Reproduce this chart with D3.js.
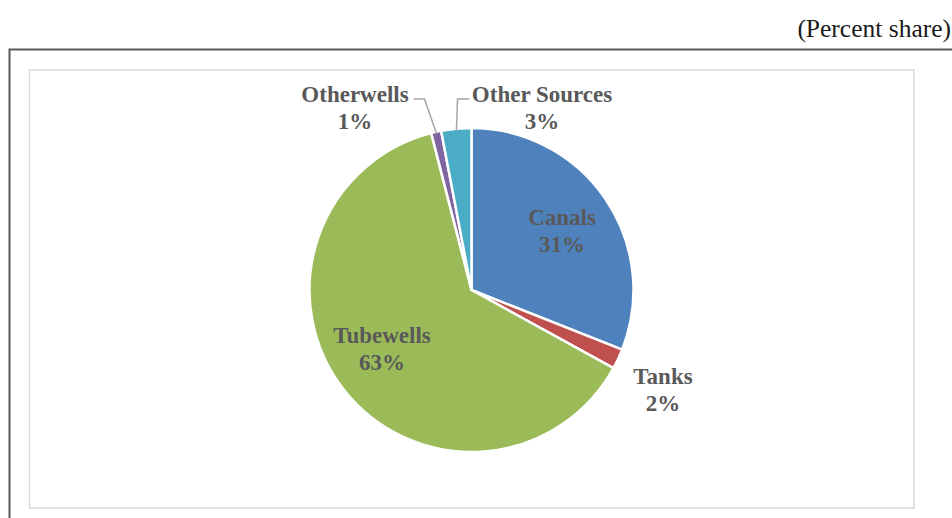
<!DOCTYPE html>
<html>
<head>
<meta charset="utf-8">
<script src="https://cdn.jsdelivr.net/npm/d3@7"></script>
<style>
  html, body { margin: 0; padding: 0; background: #fff; }
  svg { display: block; }
  text { font-family: "Liberation Serif", "Times New Roman", serif; }
</style>
</head>
<body>
<svg id="chart" width="952" height="518"></svg>
<script>
// Source of irrigation, percent share
const categories = ["Canals", "Tanks", "Tubewells", "Otherwells", "Other Sources"];
const shares = [31, 2, 63, 1, 3];
const colors = ["#4F81BD", "#C0504D", "#9BBB59", "#8064A2", "#4BACC6"];

const svg = d3.select("#chart");

// Outer frame (runs off the right and bottom edges)
svg.append("rect")
  .attr("x", 9.5).attr("y", 49.5)
  .attr("width", 960).attr("height", 500)
  .attr("fill", "none").attr("stroke", "#595959").attr("stroke-width", 2);

// Chart area border
svg.append("rect")
  .attr("x", 29.5).attr("y", 70)
  .attr("width", 884.5).attr("height", 438)
  .attr("fill", "#fff").attr("stroke", "#d9d9d9").attr("stroke-width", 1.5);

// Unit note
svg.append("text")
  .attr("x", 951).attr("y", 37)
  .attr("text-anchor", "end")
  .attr("font-size", 25.5)
  .attr("fill", "#1a1a1a")
  .text("(Percent share)");

const cx = 471.5, cy = 290, R = 162;

const data = categories.map((c, i) => ({ name: c, value: shares[i], color: colors[i] }));
const pie = d3.pie().value(d => d.value).sort(null);
const arcs = pie(data);
const arc = d3.arc().innerRadius(0).outerRadius(R);

const g = svg.append("g").attr("transform", `translate(${cx},${cy})`);

g.selectAll("path.slice")
  .data(arcs)
  .join("path")
  .attr("class", "slice")
  .attr("d", arc)
  .attr("fill", d => d.data.color)
  .attr("stroke", "#fff")
  .attr("stroke-width", 2.5)
  .attr("stroke-linejoin", "round");

// Label placement: x centre and first-line baseline, relative to the pie centre
const labelPos = {
  "Canals":        [90.5, -65],
  "Tanks":         [191.5, 94],
  "Tubewells":     [-89.5, 53],
  "Otherwells":    [-116.5, -188],
  "Other Sources": [70.5, -188]
};

// Leader lines for the two thin top slices
const leaders = {
  "Otherwells":    { textEnd: [-58, -191], elbow: [-47, -191] },
  "Other Sources": { textEnd: [-2, -191],  elbow: [-14, -191] }
};

const lineGap = 26.5;

arcs.forEach(a => {
  const name = a.data.name;
  const [lx, ly] = labelPos[name];
  const t = g.append("text")
    .attr("text-anchor", "middle")
    .attr("font-size", 23)
    .attr("font-weight", "bold")
    .attr("fill", "#595959");
  t.append("tspan").attr("x", lx).attr("y", ly).text(name);
  t.append("tspan").attr("x", lx).attr("y", ly + lineGap).text(Math.round(a.data.value) + "%");

  if (leaders[name]) {
    const mid = (a.startAngle + a.endAngle) / 2;
    const r2 = R - 2;
    const tip = [Math.sin(mid) * r2, -Math.cos(mid) * r2];
    const L = leaders[name];
    g.append("polyline")
      .attr("points", [L.textEnd, L.elbow, tip].map(p => p.join(",")).join(" "))
      .attr("fill", "none")
      .attr("stroke", "#a6a6a6")
      .attr("stroke-width", 1.5);
  }
});
</script>
</body>
</html>
